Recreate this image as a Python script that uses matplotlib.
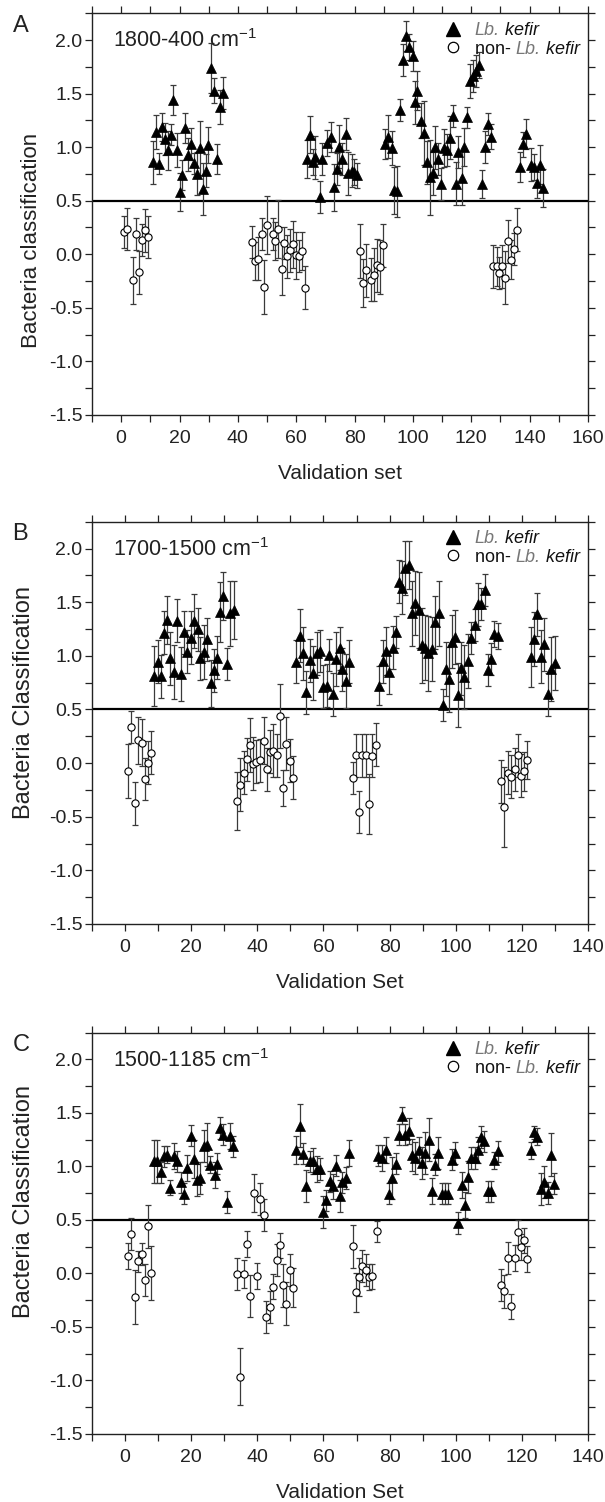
import matplotlib
matplotlib.use("Agg")
import matplotlib.pyplot as plt
from matplotlib.ticker import MultipleLocator, FormatStrFormatter

plt.rcParams['font.family'] = ['Liberation Sans', 'DejaVu Sans']
plt.rcParams['mathtext.default'] = 'regular'

# ---------------- Panel A (1800-400 cm-1) ----------------
a_kefir_x = [11.0, 11.9, 13.0, 14.1, 15.0, 15.9, 17.1, 17.9, 19.0, 20.2, 21.0, 21.9, 23.0, 23.9, 24.8, 26.0, 27.0, 28.0, 29.0, 29.9, 30.8, 31.9, 33.0, 33.9, 35.0,
             63.8, 64.8, 65.7, 66.6, 68.0, 68.9, 70.7, 71.8, 72.9, 73.9, 74.8, 75.8, 76.9, 77.9, 79.0, 79.9, 80.7,
             90.4, 91.6, 92.7, 93.5, 94.6, 95.7, 96.7, 97.6, 98.8, 99.9, 100.7, 101.5, 102.8, 103.8, 104.7, 105.8, 106.8, 107.7, 108.7, 109.7,
             110.6, 111.8, 112.7, 113.6, 114.6, 115.5, 116.7, 117.6, 118.6, 119.5, 120.7, 121.6, 122.7, 123.7, 124.7, 125.8, 126.6,
             136.7, 137.6, 138.6, 140.3, 141.5, 142.5, 143.5, 144.7]
a_kefir_y = [0.86, 1.14, 0.845, 1.186, 1.078, 0.969, 1.118, 1.441, 0.975, 0.58, 0.736, 1.18, 0.931, 1.03, 0.85, 0.751, 0.993, 0.611, 0.782, 1.02, 1.739, 1.528, 0.885, 1.372, 1.503,
             0.891, 1.118, 0.86, 0.907, 0.534, 0.891, 1.037, 1.099, 0.627, 0.798, 1.006, 0.891, 1.124, 0.757, 0.782, 0.767, 0.736,
             1.03, 1.099, 0.993, 0.596, 0.587, 1.348, 1.814, 2.04, 1.938, 1.854, 1.42, 1.528, 1.248, 1.13, 0.86, 0.72, 0.757, 1.0, 0.891, 0.658,
             0.993, 0.975, 1.087, 1.292, 0.658, 0.953, 0.711, 1.0, 1.279, 1.621, 1.668, 1.714, 1.767, 0.658, 1.0, 1.217, 1.099,
             0.813, 1.025, 1.124, 0.838, 0.813, 0.664, 0.838, 0.618]
a_kefir_err = [0.2, 0.16, 0.1, 0.13, 0.15, 0.18, 0.1, 0.14, 0.16, 0.18, 0.14, 0.14, 0.15, 0.15, 0.1, 0.2, 0.25, 0.24, 0.15, 0.17, 0.23, 0.12, 0.14, 0.16, 0.15,
               0.18, 0.17, 0.12, 0.2, 0.15, 0.15, 0.12, 0.14, 0.22, 0.15, 0.2, 0.15, 0.15, 0.2, 0.15, 0.12, 0.12,
               0.14, 0.2, 0.16, 0.22, 0.24, 0.1, 0.15, 0.14, 0.12, 0.14, 0.2, 0.18, 0.16, 0.3, 0.2, 0.35, 0.2, 0.2, 0.15, 0.15,
               0.18, 0.15, 0.2, 0.1, 0.2, 0.15, 0.25, 0.18, 0.1, 0.16, 0.15, 0.15, 0.12, 0.13, 0.15, 0.1, 0.12,
               0.14, 0.12, 0.14, 0.15, 0.12, 0.14, 0.18, 0.18]
a_non_x = [1.0, 2.1, 4.2, 5.0, 6.1, 7.0, 8.2, 9.1,
           45.0, 45.9, 47.0, 48.1, 48.9, 50.0, 51.9, 52.8, 53.9, 55.0, 55.9, 56.9, 58.0, 59.0, 59.9, 60.8, 61.9, 62.9,
           81.8, 82.8, 83.9, 85.6, 86.8, 87.8, 88.7, 89.6,
           127.5, 128.7, 129.6, 130.6, 131.7, 132.7, 133.6, 134.6, 135.8]
a_non_y = [0.208, 0.236, -0.243, 0.186, -0.17, 0.136, 0.223, 0.161,
           0.114, -0.063, -0.04, 0.192, -0.305, 0.27, 0.192, 0.124, 0.233, -0.134, 0.105, -0.019, 0.037, 0.093, -0.01, -0.019, 0.03, -0.311,
           0.03, -0.268, -0.15, -0.237, -0.19, -0.103, -0.119, 0.083,
           -0.112, -0.112, -0.175, -0.112, -0.218, 0.12, -0.05, 0.052, 0.229]
a_non_err = [0.15, 0.2, 0.22, 0.15, 0.2, 0.15, 0.2, 0.2,
             0.15, 0.18, 0.2, 0.15, 0.25, 0.27, 0.15, 0.18, 0.27, 0.25, 0.15, 0.2, 0.2, 0.22, 0.22, 0.15, 0.18, 0.2,
             0.25, 0.22, 0.25, 0.2, 0.25, 0.25, 0.25, 0.2,
             0.2, 0.18, 0.15, 0.2, 0.25, 0.2, 0.18, 0.15, 0.2]

# ---------------- Panel B (1700-1500 cm-1) ----------------
b_kefir_x = [8.9, 9.9, 10.9, 11.9, 12.7, 13.7, 14.7, 15.8, 16.8, 17.8, 18.8, 19.8, 20.8, 22.0, 22.8, 23.8, 24.8, 25.9, 26.9, 27.9, 28.7, 29.7, 30.9, 31.7, 32.9,
             51.8, 52.8, 53.8, 54.8, 55.9, 56.9, 57.9, 58.9, 60.0, 61.0, 61.8, 62.8, 63.7, 65.0, 65.7, 66.8, 67.8,
             76.9, 77.9, 78.9, 79.9, 80.9, 81.9, 82.8, 83.8, 84.8, 85.8, 86.8, 87.8, 88.8, 89.7, 90.7, 91.7, 92.9, 93.7, 94.8, 96.0,
             97.0, 97.9, 98.9, 99.8, 100.7, 101.7, 102.6, 103.7, 104.7, 105.8, 106.6, 107.6, 108.7, 109.8, 110.7, 111.6, 112.7,
             122.7, 123.7, 124.7, 125.8, 126.8, 127.8, 128.8, 129.9]
b_kefir_y = [0.81, 0.945, 0.81, 1.216, 1.334, 0.976, 0.851, 1.325, 0.83, 1.219, 1.038, 1.169, 1.325, 1.247, 0.976, 1.038, 1.153, 0.743, 0.867, 0.982, 1.405, 1.558, 0.92, 1.396, 1.427,
             0.945, 1.188, 1.023, 0.659, 0.96, 0.842, 1.023, 1.045, 0.711, 0.721, 1.01, 0.64, 0.97, 1.07, 0.876, 0.764, 0.945,
             0.721, 0.951, 1.045, 0.845, 1.076, 1.225, 1.692, 1.636, 1.816, 1.847, 1.396, 1.49, 1.427, 1.1, 1.076, 1.023, 1.063, 1.312, 1.396, 0.54,
             0.876, 0.78, 1.132, 1.178, 0.634, 0.883, 0.805, 0.954, 1.169, 1.287, 1.48, 1.48, 1.614, 0.867, 0.97, 1.2, 1.188,
             0.992, 1.157, 1.387, 0.992, 1.107, 0.643, 0.876, 0.935]
b_kefir_err = [0.28, 0.2, 0.2, 0.2, 0.22, 0.25, 0.25, 0.2, 0.25, 0.2, 0.2, 0.25, 0.25, 0.2, 0.2, 0.25, 0.2, 0.22, 0.2, 0.2, 0.28, 0.22, 0.15, 0.3, 0.27,
               0.2, 0.25, 0.25, 0.2, 0.2, 0.25, 0.2, 0.2, 0.2, 0.2, 0.15, 0.2, 0.25, 0.2, 0.2, 0.25, 0.2,
               0.18, 0.2, 0.22, 0.2, 0.2, 0.15, 0.2, 0.25, 0.25, 0.22, 0.3, 0.3, 0.35, 0.35, 0.3, 0.35, 0.3, 0.25, 0.3, 0.15,
               0.25, 0.3, 0.25, 0.25, 0.3, 0.25, 0.3, 0.25, 0.15, 0.15, 0.2, 0.15, 0.15, 0.15, 0.15, 0.12, 0.12,
               0.28, 0.25, 0.2, 0.25, 0.25, 0.2, 0.3, 0.25]
b_non_x = [0.9, 1.9, 2.9, 3.8, 5.0, 5.9, 6.9, 7.9,
           33.8, 34.8, 36.0, 36.9, 37.9, 38.8, 39.7, 40.8, 41.9, 42.8, 43.8, 44.8, 45.8, 47.0, 47.8, 48.8, 49.9, 50.9,
           68.8, 69.8, 70.8, 71.8, 72.8, 73.8, 74.8, 75.9,
           113.7, 114.7, 115.7, 116.8, 117.8, 118.8, 119.8, 120.7, 121.7]
b_non_y = [-0.076, 0.338, -0.375, 0.213, 0.19, -0.148, 0.005, 0.095,
           -0.35, -0.2, -0.088, 0.036, 0.167, -0.004, 0.011, 0.027, 0.207, -0.057, 0.105, 0.117, 0.074, 0.438, -0.232, 0.182, 0.02, -0.135,
           -0.138, 0.073, -0.456, 0.073, 0.073, -0.378, 0.067, 0.173,
           -0.169, -0.409, -0.088, -0.129, -0.057, 0.073, -0.12, -0.076, 0.027]
b_non_err = [0.25, 0.15, 0.2, 0.22, 0.22, 0.2, 0.2, 0.2,
             0.27, 0.25, 0.2, 0.2, 0.25, 0.25, 0.2, 0.2, 0.22, 0.2, 0.2, 0.25, 0.2, 0.3, 0.17, 0.25, 0.2, 0.2,
             0.15, 0.2, 0.2, 0.2, 0.2, 0.28, 0.2, 0.2,
             0.2, 0.37, 0.2, 0.2, 0.2, 0.2, 0.2, 0.18, 0.18]

# ---------------- Panel C (1500-1185 cm-1) ----------------
c_kefir_x = [8.7, 9.7, 10.9, 11.9, 12.7, 13.7, 14.7, 15.8, 16.8, 17.8, 18.8, 19.8, 20.8, 21.8, 22.8, 23.8, 24.8, 25.8, 27.1, 27.9, 28.7, 29.7, 30.7, 31.7, 32.7,
             51.8, 52.8, 53.8, 54.8, 55.9, 56.9, 57.9, 58.9, 59.9, 60.9, 61.9, 62.9, 63.7, 64.9, 65.7, 66.8, 67.8,
             76.6, 77.6, 78.8, 79.8, 80.8, 81.8, 82.8, 83.8, 84.8, 85.8, 86.8, 87.8, 88.8, 89.8, 90.8, 91.8, 92.8, 93.7, 94.7, 95.7,
             96.8, 97.8, 98.8, 99.8, 100.7, 101.8, 102.7, 103.7, 104.7, 105.7, 106.8, 107.7, 108.6, 109.7, 110.7, 111.7, 112.7,
             122.7, 123.7, 124.7, 125.8, 126.8, 127.8, 128.8, 129.8]
c_kefir_y = [1.048, 1.048, 0.945, 1.095, 1.11, 0.799, 1.095, 1.048, 0.852, 0.746, 0.986, 1.288, 1.07, 0.87, 0.892, 1.195, 1.204, 1.017, 0.923, 1.026, 1.36, 1.298, 0.668, 1.282, 1.188,
             1.157, 1.382, 1.12, 0.814, 1.048, 1.048, 0.976, 0.976, 0.571, 0.683, 0.861, 0.814, 1.008, 0.727, 0.852, 0.892, 1.126,
             1.101, 1.079, 1.157, 0.746, 0.892, 1.026, 1.298, 1.475, 1.298, 1.329, 1.11, 1.079, 1.157, 1.033, 1.126, 1.251, 0.768, 1.017, 1.126, 0.746,
             0.746, 0.746, 1.064, 1.126, 0.471, 0.83, 0.643, 0.902, 1.079, 1.079, 1.157, 1.276, 1.235, 0.768, 0.768, 1.057, 1.142,
             1.151, 1.32, 1.276, 0.789, 0.852, 0.752, 1.11, 0.839]
c_kefir_err = [0.2, 0.2, 0.1, 0.1, 0.08, 0.07, 0.12, 0.1, 0.1, 0.1, 0.12, 0.1, 0.18, 0.15, 0.15, 0.15, 0.2, 0.08, 0.12, 0.1, 0.1, 0.1, 0.1, 0.12, 0.1,
               0.13, 0.2, 0.1, 0.15, 0.1, 0.12, 0.12, 0.1, 0.15, 0.1, 0.1, 0.12, 0.1, 0.15, 0.1, 0.1, 0.12,
               0.1, 0.12, 0.12, 0.1, 0.2, 0.1, 0.1, 0.08, 0.1, 0.12, 0.15, 0.15, 0.12, 0.15, 0.2, 0.2, 0.12, 0.1, 0.15, 0.1,
               0.1, 0.1, 0.1, 0.1, 0.1, 0.12, 0.12, 0.15, 0.1, 0.1, 0.12, 0.1, 0.1, 0.1, 0.1, 0.08, 0.1,
               0.08, 0.06, 0.08, 0.15, 0.15, 0.1, 0.2, 0.1]
c_non_x = [0.9, 1.9, 2.9, 3.8, 5.0, 5.9, 6.9, 7.9,
           33.8, 34.8, 35.9, 36.9, 37.9, 38.9, 39.9, 40.9, 41.9, 42.7, 43.8, 44.8, 45.8, 46.9, 47.8, 48.8, 49.9, 50.9,
           68.8, 69.8, 70.8, 71.8, 72.8, 73.8, 74.8, 76.1,
           113.7, 114.7, 115.7, 116.8, 117.8, 118.8, 119.8, 120.7, 121.7]
c_non_y = [0.166, 0.368, -0.221, 0.113, 0.181, -0.065, 0.44, 0.003,
           -0.006, -0.963, -0.004, 0.278, -0.211, 0.752, -0.021, 0.696, 0.549, -0.408, -0.31, -0.122, 0.122, 0.262, -0.109, -0.283, 0.035, -0.132,
           0.253, -0.177, -0.034, 0.066, 0.035, -0.034, -0.028, 0.393,
           -0.106, -0.168, 0.144, -0.308, 0.144, 0.384, 0.247, 0.309, 0.134]
c_non_err = [0.12, 0.15, 0.25, 0.1, 0.1, 0.15, 0.2, 0.25,
             0.15, 0.27, 0.13, 0.12, 0.2, 0.18, 0.12, 0.15, 0.15, 0.15, 0.15, 0.12, 0.15, 0.12, 0.2, 0.2, 0.15, 0.18,
             0.2, 0.18, 0.18, 0.15, 0.15, 0.12, 0.12, 0.1,
             0.15, 0.15, 0.15, 0.12, 0.12, 0.12, 0.12, 0.12, 0.12]

panel_letters = ['A', 'B', 'C']
range_labels = ['1800-400 cm$^{-1}$', '1700-1500 cm$^{-1}$', '1500-1185 cm$^{-1}$']
x_labels = ['Validation set', 'Validation Set', 'Validation Set']
y_labels = ['Bacteria classification', 'Bacteria Classification', 'Bacteria Classification']
x_max = [160, 140, 140]
threshold = 0.5

panels = [
    (a_kefir_x, a_kefir_y, a_kefir_err, a_non_x, a_non_y, a_non_err),
    (b_kefir_x, b_kefir_y, b_kefir_err, b_non_x, b_non_y, b_non_err),
    (c_kefir_x, c_kefir_y, c_kefir_err, c_non_x, c_non_y, c_non_err),
]

W, H = 605, 1502
fig = plt.figure(figsize=(W / 100, H / 100), dpi=100)

axes_px = [(13.3, 414.9), (521.7, 924.0), (1032.7, 1434.0)]
left_px, right_px = 92, 588
letter_baseline_px = [32, 540, 1051]
ylabel_pos = [(-0.100, 0.435), (-0.114, 0.55), (-0.114, 0.58)]
ylabel_size = [16, 17, 17]

ecol = '#3a3a3a'
for i, (kx, ky, ke, nx, ny, ne) in enumerate(panels):
    top, bot = axes_px[i]
    ax = fig.add_axes([left_px / W, 1 - bot / H, (right_px - left_px) / W, (bot - top) / H])
    ax.axhline(threshold, color='k', lw=1.6, zorder=1)
    ax.errorbar(kx, ky, yerr=ke, fmt='none', ecolor=ecol, elinewidth=0.9,
                capsize=2.3, capthick=0.9, zorder=2)
    ax.errorbar(nx, ny, yerr=ne, fmt='none', ecolor=ecol, elinewidth=0.9,
                capsize=2.3, capthick=0.9, zorder=2)
    ax.plot(kx, ky, linestyle='none', marker='^', ms=6.8, mfc='k', mec='k', mew=0.5, zorder=3)
    ax.plot(nx, ny, linestyle='none', marker='o', ms=5.2, mfc='white', mec='k', mew=0.8, zorder=3)

    ax.set_xlim(-10, x_max[i])
    ax.set_ylim(-1.5, 2.25)
    ax.xaxis.set_major_locator(MultipleLocator(20))
    ax.xaxis.set_minor_locator(MultipleLocator(10))
    ax.yaxis.set_major_locator(MultipleLocator(0.5))
    ax.yaxis.set_minor_locator(MultipleLocator(0.25))
    ax.yaxis.set_major_formatter(FormatStrFormatter('%.1f'))
    ax.tick_params(which='both', direction='out', length=5, width=0.9,
                   top=True, right=True, colors='#222222')
    ax.tick_params(axis='x', which='major', labelsize=14, pad=6)
    ax.tick_params(axis='y', which='major', labelsize=14, pad=2)
    for sp in ax.spines.values():
        sp.set_linewidth(1.0)
        sp.set_color('#222222')

    ax.set_xlabel(x_labels[i], fontsize=15, labelpad=12, color='#222222')
    ax.set_ylabel(y_labels[i], fontsize=ylabel_size[i], color='#222222')
    ax.yaxis.set_label_coords(*ylabel_pos[i])

    ax.text(0.043, 0.915, range_labels[i], transform=ax.transAxes,
            fontsize=15.5, va='baseline', ha='left', color='#222222')
    fig.text(12.5 / W, 1 - letter_baseline_px[i] / H, panel_letters[i],
             fontsize=17, va='baseline', ha='left', color='#222222')

    # legend
    ax.plot([0.728], [0.962], transform=ax.transAxes, marker='^', ms=9.5,
            mfc='k', mec='k', linestyle='none', clip_on=False)
    ax.plot([0.728], [0.916], transform=ax.transAxes, marker='o', ms=7.5,
            mfc='white', mec='k', mew=0.9, linestyle='none', clip_on=False)
    t1 = ax.text(0.772, 0.957, 'Lb.', transform=ax.transAxes, fontsize=13,
                 style='italic', color='#777777', va='center', ha='left')
    ax.annotate(' kefir', xy=(1, 0), xycoords=t1, va='bottom', ha='left',
                fontsize=13, style='italic', color='#111111')
    t2 = ax.text(0.772, 0.911, 'non- ', transform=ax.transAxes, fontsize=13,
                 color='#111111', va='center', ha='left')
    t3 = ax.annotate('Lb.', xy=(1, 0), xycoords=t2, va='bottom', ha='left',
                     fontsize=13, style='italic', color='#777777')
    ax.annotate(' kefir', xy=(1, 0), xycoords=t3, va='bottom', ha='left',
                fontsize=13, style='italic', color='#111111')

fig.savefig('out.png', dpi=100)
